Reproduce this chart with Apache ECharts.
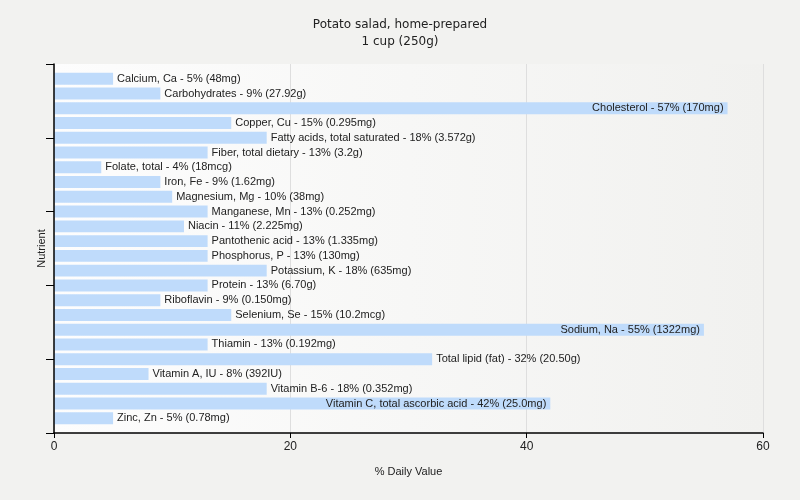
<!DOCTYPE html>
<html>
<head>
<meta charset="utf-8">
<script src="https://cdn.jsdelivr.net/npm/echarts@6/dist/echarts.min.js"></script>
<style>
  html, body { margin: 0; padding: 0; background: #f2f2f0; }
  #chart { width: 800px; height: 500px; }
</style>
</head>
<body>
<div id="chart"></div>
<script>
var nutrients = ["Calcium, Ca", "Carbohydrates", "Cholesterol", "Copper, Cu", "Fatty acids, total saturated",
  "Fiber, total dietary", "Folate, total", "Iron, Fe", "Magnesium, Mg", "Manganese, Mn", "Niacin",
  "Pantothenic acid", "Phosphorus, P", "Potassium, K", "Protein", "Riboflavin", "Selenium, Se",
  "Sodium, Na", "Thiamin", "Total lipid (fat)", "Vitamin A, IU", "Vitamin B-6",
  "Vitamin C, total ascorbic acid", "Zinc, Zn"];
var percents = [5, 9, 57, 15, 18, 13, 4, 9, 10, 13, 11, 13, 13, 18, 13, 9, 15, 55, 13, 32, 8, 18, 42, 5];
var amounts = ["48mg", "27.92g", "170mg", "0.295mg", "3.572g", "3.2g", "18mcg", "1.62mg", "38mg", "0.252mg",
  "2.225mg", "1.335mg", "130mg", "635mg", "6.70g", "0.150mg", "10.2mcg", "1322mg", "0.192mg", "20.50g",
  "392IU", "0.352mg", "25.0mg", "0.78mg"];
var xTicks = [0, 20, 40, 60];

var chart = echarts.init(document.getElementById("chart"));

// plot frame is 369px tall, rows sit in 25 slots with half a slot free at each end
var frameTop = 64, frameBottom = 67;
var half = (500 - frameTop - frameBottom) / (nutrients.length + 1) / 2;

var data = percents.map(function (v) {
  var inside = v >= 40; // long bars carry their label inside
  return {
    value: v,
    label: { position: inside ? "insideRight" : "right", distance: 4 }
  };
});

var option = {
  backgroundColor: "#f2f2f0",
  textStyle: { fontFamily: "Liberation Sans, Arial, sans-serif" },
  title: {
    text: "Potato salad, home-prepared\n1 cup (250g)",
    left: "center",
    top: 11,
    textStyle: { fontSize: 12, fontWeight: "normal", color: "#222", lineHeight: 17,
      fontFamily: "DejaVu Sans, sans-serif" }
  },
  grid: [
    { // bars
      left: 54, right: 37, top: frameTop + half, bottom: frameBottom + half
    },
    { // frame
      left: 54, right: 37, top: frameTop, bottom: frameBottom,
      show: true, borderWidth: 0,
      backgroundColor: new echarts.graphic.LinearGradient(0, 0, 1, 0, [
        { offset: 0, color: "#fdfdfd" },
        { offset: 1, color: "#f1f1ef" }
      ])
    }
  ],
  xAxis: [
    {
      gridIndex: 0,
      type: "value",
      min: xTicks[0], max: xTicks[xTicks.length - 1],
      show: false
    },
    {
      gridIndex: 1,
      type: "value",
      min: xTicks[0], max: xTicks[xTicks.length - 1], interval: 20,
      name: "% Daily Value",
      nameLocation: "middle",
      nameGap: 33,
      nameTextStyle: { fontSize: 11, color: "#222" },
      axisLine: { show: true, lineStyle: { color: "#000", width: 1.5 } },
      axisTick: { show: true, length: 5, lineStyle: { color: "#000" } },
      axisLabel: { fontSize: 12, color: "#222", margin: 8 },
      splitLine: { show: true, lineStyle: { color: "#dedede" } }
    }
  ],
  yAxis: [
    {
      gridIndex: 0,
      type: "category",
      data: nutrients,
      inverse: true,
      show: false
    },
    {
      gridIndex: 1,
      type: "value",
      min: 0, max: 5, interval: 1,
      z: 5,
      name: "Nutrient",
      nameLocation: "middle",
      nameGap: 7,
      nameRotate: 90,
      nameTextStyle: { fontSize: 11, color: "#222" },
      axisLine: { show: true, lineStyle: { color: "#000", width: 1.5 } },
      axisTick: { show: true, length: 8, lineStyle: { color: "#000" } },
      axisLabel: { show: false },
      splitLine: { show: false }
    }
  ],
  series: [
    {
      type: "bar",
      xAxisIndex: 0,
      yAxisIndex: 0,
      data: data,
      barCategoryGap: "19%",
      itemStyle: { color: "#bfdbfb" },
      label: {
        show: true,
        fontSize: 11,
        color: "#222",
        formatter: function (p) {
          return nutrients[p.dataIndex] + " - " + percents[p.dataIndex] + "% (" + amounts[p.dataIndex] + ")";
        }
      },
      silent: true,
      animation: false
    }
  ]
};

chart.setOption(option);
</script>
</body>
</html>
